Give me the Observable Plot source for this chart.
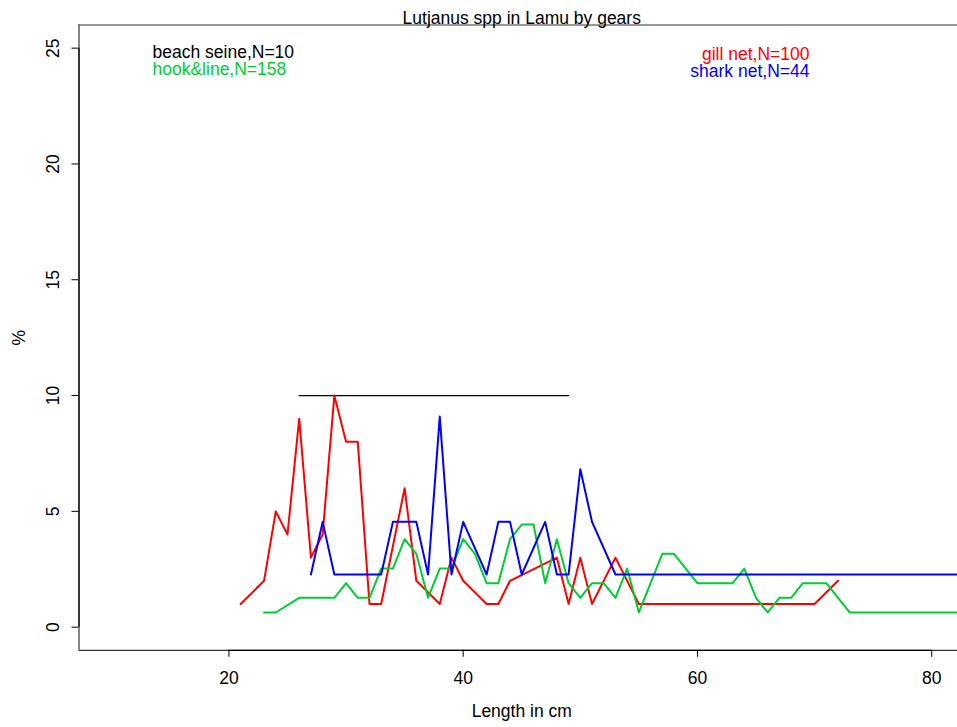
<!DOCTYPE html>
<html><head><meta charset="utf-8">
<script src="https://cdn.jsdelivr.net/npm/d3@7"></script>
<script src="https://cdn.jsdelivr.net/npm/@observablehq/plot@0.6"></script>
<style>
html,body{margin:0;padding:0;background:#fff;overflow:hidden}
#chart svg{display:block}
</style>
</head><body><div id="chart"></div>
<script>
const title = "Lutjanus spp in Lamu by gears";
const xLabel = "Length in cm";
const yLabel = "%";
const xTicks = [20, 40, 60, 80];
const yTicks = [0, 5, 10, 15, 20, 25];
const xDomain = [7.2, 82.8];
const yDomain = [-1, 26];

// beach seine (N=10): counts per length
const beachName = "beach seine";
const beachN = 10;
const beachLen = [26, 28, 30, 32, 35, 38, 41, 44, 47, 49];
const beachCnt = [1, 1, 1, 1, 1, 1, 1, 1, 1, 1];

// gill net (N=100)
const gillName = "gill net";
const gillN = 100;
const gillLen = [21, 23, 24, 25, 26, 27, 28, 29, 30, 31, 32, 33, 35, 36, 38, 39, 40, 42, 43, 44, 48, 49, 50, 51, 53, 55, 56, 57, 58, 60, 61, 62, 64, 65, 66, 68, 69, 70, 72];
const gillCnt = [1, 2, 5, 4, 9, 3, 4, 10, 8, 8, 1, 1, 6, 2, 1, 3, 2, 1, 1, 2, 3, 1, 3, 1, 3, 1, 1, 1, 1, 1, 1, 1, 1, 1, 1, 1, 1, 1, 2];

// hook&line (N=158)
const hookName = "hook&line";
const hookN = 158;
const hookLen = [23, 24, 26, 27, 28, 29, 30, 31, 32, 33, 34, 35, 36, 37, 38, 39, 40, 41, 42, 43, 44, 45, 46, 47, 48, 49, 50, 51, 52, 53, 54, 55, 57, 58, 59, 60, 61, 62, 63, 64, 65, 66, 67, 68, 69, 70, 71, 73, 84];
const hookCnt = [1, 1, 2, 2, 2, 2, 3, 2, 2, 4, 4, 6, 5, 2, 4, 4, 6, 5, 3, 3, 6, 7, 7, 3, 6, 3, 2, 3, 3, 2, 4, 1, 5, 5, 4, 3, 3, 3, 3, 4, 2, 1, 2, 2, 3, 3, 3, 1, 1];

// shark net (N=44)
const sharkName = "shark net";
const sharkN = 44;
const sharkLen = [27, 28, 29, 30, 31, 32, 33, 34, 35, 36, 37, 38, 39, 40, 42, 43, 44, 45, 47, 48, 49, 50, 51, 53, 56, 59, 63, 68, 74, 85];
const sharkCnt = [1, 2, 1, 1, 1, 1, 1, 2, 2, 2, 1, 4, 1, 2, 1, 2, 2, 1, 2, 1, 1, 3, 2, 1, 1, 1, 1, 1, 1, 1];

const colors = {beach: "#000000", gill: "#FF0000", hook: "#00CC33", shark: "#0000FF"};

function toRows(len, cnt, n) {
  return len.map((x, i) => ({x, y: cnt[i] / n * 100}));
}
const beach = toRows(beachLen, beachCnt, beachN);
const gill = toRows(gillLen, gillCnt, gillN);
const hook = toRows(hookLen, hookCnt, hookN);
const shark = toRows(sharkLen, sharkCnt, sharkN);

const fs = 17.5;
const lab = (name, n) => `${name},N=${n}`;

const chart = Plot.plot({
  width: 964, height: 727,
  marginTop: 24.5, marginBottom: 77.2, marginLeft: 78.5, marginRight: 0,
  style: {fontFamily: "'Liberation Sans', Arial, Helvetica, sans-serif", fontSize: fs + "px", background: "#fff", maxWidth: "none", overflow: "hidden", color: "#000"},
  x: {domain: xDomain},
  y: {domain: yDomain},
  marks: [
    // box (left, top, bottom)
    Plot.ruleX([xDomain[0]], {y1: yDomain[0], y2: yDomain[1], stroke: "#333", strokeWidth: 1.2}),
    Plot.ruleY([yDomain[1]], {stroke: "#333", strokeWidth: 1.2}),
    Plot.ruleY([yDomain[0]], {stroke: "#333", strokeWidth: 1.2}),
    // axes
    Plot.axisX({ticks: xTicks, tickSize: 7, tickPadding: 14, fontSize: fs, label: null, stroke: "#000"}),
    Plot.ruleY([yDomain[0]], {x1: xTicks[0], x2: xTicks[xTicks.length - 1], stroke: "#000", strokeWidth: 1.2}),
    Plot.axisY({ticks: yTicks, tickSize: 7, tickFormat: () => "", label: null, stroke: "#000"}),
    Plot.ruleX([xDomain[0]], {y1: yTicks[0], y2: yTicks[yTicks.length - 1], stroke: "#000", strokeWidth: 1.2}),
    Plot.text(yTicks, {y: d => d, text: d => String(d), frameAnchor: "left", dx: -25.5, rotate: -90, textAnchor: "middle", lineAnchor: "middle", fontSize: fs, fill: "#000"}),
    // axis titles + main title
    Plot.text([yLabel], {text: d => d, frameAnchor: "left", dx: -60, rotate: -90, textAnchor: "middle", lineAnchor: "middle", fontSize: fs}),
    Plot.text([xLabel], {text: d => d, frameAnchor: "bottom", dy: 60.6, lineAnchor: "middle", fontSize: fs}),
    Plot.text([title], {text: d => d, frameAnchor: "top", dy: -6.6, lineAnchor: "middle", fontSize: fs}),
    // series lines
    Plot.line(beach, {x: "x", y: "y", stroke: colors.beach, strokeWidth: 1.3, clip: true}),
    Plot.line(gill, {x: "x", y: "y", stroke: colors.gill, strokeWidth: 2, clip: true}),
    Plot.line(hook, {x: "x", y: "y", stroke: colors.hook, strokeWidth: 2, clip: true}),
    Plot.line(shark, {x: "x", y: "y", stroke: colors.shark, strokeWidth: 2, clip: true}),
    // legends
    Plot.text([lab(beachName, beachN)], {text: d => d, frameAnchor: "top-left", dx: 73.5, dy: 27.7, textAnchor: "start", lineAnchor: "middle", fill: colors.beach, fontSize: fs}),
    Plot.text([lab(hookName, hookN)], {text: d => d, frameAnchor: "top-left", dx: 73.5, dy: 44.5, textAnchor: "start", lineAnchor: "middle", fill: colors.hook, fontSize: fs}),
    Plot.text([lab(gillName, gillN)], {text: d => d, frameAnchor: "top-right", dx: -155, dy: 29.2, textAnchor: "end", lineAnchor: "middle", fill: colors.gill, fontSize: fs}),
    Plot.text([lab(sharkName, sharkN)], {text: d => d, frameAnchor: "top-right", dx: -155, dy: 45.9, textAnchor: "end", lineAnchor: "middle", fill: colors.shark, fontSize: fs})
  ]
});
document.getElementById("chart").appendChild(chart);
</script>
</body></html>
